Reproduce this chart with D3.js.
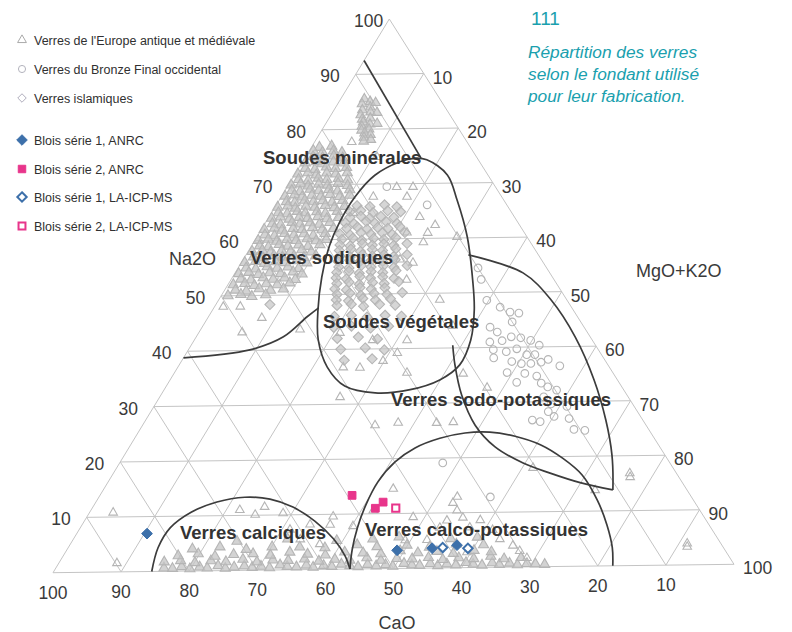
<!DOCTYPE html>
<html>
<head>
<meta charset="utf-8">
<script src="https://cdn.jsdelivr.net/npm/d3@7"></script>
<style>
  body { margin: 0; background: #fff; }
  text { font-family: "Liberation Sans", Arial, sans-serif; }
</style>
</head>
<body>
<svg id="chart" width="792" height="632"></svg>
<script>
// Compositions are shares of the fluxes, in %: [Na2O, MgO+K2O]; CaO is the remainder.

// Verres de l'Europe antique et médiévale
const natronColumn = [[85.5,3.5],[85,4.6],[84.6,3.6],[84,5.1],[83.5,4.2],[83.1,5.6],[82.6,4.4],[82,6.1],[81.8,5],[81.3,5.4],[80.9,6.6],[80.5,5.6],[80,6.9],[79.8,5.9],[79.3,6.6],[79,7.6],[78.5,6.9],[78.1,8.1],[77.8,7.2],[83,6.6],[81,7.6],[84.8,5.5]];
const natronMain = [[76.8,1.2],[77,2.9],[76.2,0.6],[75.9,2.1],[76.1,3.6],[75.8,5],[75.1,1.1],[74.9,2.6],[75.2,4.1],[74.8,5.6],[74,0.5],[74.2,2],[73.8,3.1],[74.1,4.6],[73.9,6.2],[73,1],[72.8,2.5],[73.2,4],[72.9,5.5],[73.1,7],[72,0.4],[72.2,1.8],[71.8,3.2],[72.1,4.6],[71.9,6],[72.1,7.6],[71,1],[70.8,2.5],[71.2,3.8],[70.9,5.2],[71.1,6.8],[70.8,8.3],[70,0.4],[70.2,1.7],[69.8,3],[70.1,4.4],[69.9,5.8],[70.2,7.2],[69.8,8.8],[69,1],[68.8,2.3],[69.2,3.6],[68.9,5],[69.1,6.4],[68.8,7.8],[69,9.5],[68,0.5],[68.2,1.8],[67.8,3.1],[68.1,4.4],[67.9,5.8],[68.2,7],[67.8,8.6],[68,10],[67,1.2],[66.8,2.5],[67.2,3.8],[66.9,5.2],[67.1,6.5],[66.8,8],[67.1,9.4],[66,0.4],[66.2,1.8],[65.8,3.1],[66.1,4.5],[65.9,5.9],[66.2,7.3],[65.8,8.8],[66,10.2],[65,1],[64.8,2.4],[65.2,3.7],[64.9,5],[65.1,6.6],[64.8,8],[65.1,9.6],[64,0.5],[64.2,1.7],[63.8,3.2],[64.1,4.5],[63.9,5.8],[64.2,7.2],[63.8,8.7],[64,10.3],[63,1.1],[62.8,2.4],[63.2,3.9],[62.9,5.2],[63.1,6.6],[62.8,8.1],[63.1,9.5],[62,0.4],[62.2,1.8],[61.8,3.1],[62.1,4.6],[61.9,6],[62.2,7.4],[61.8,9],[62,10.6],[61,1],[60.8,2.5],[61.2,3.8],[60.9,5.3],[61.1,6.7],[60.8,8.2],[61.1,9.8],[60,0.5],[60.2,1.9],[59.8,3.3],[60.1,4.7],[59.9,6.1],[60.2,7.6],[59.8,9.1],[60,10.5],[59,1.2],[58.8,2.6],[59.2,4],[58.9,5.4],[59.1,6.9],[58.8,8.4],[59.1,10],[58,0.6],[58.2,2],[57.8,3.4],[58.1,4.9],[57.9,6.3],[58.2,7.8],[57.8,9.4],[57,1.3],[56.8,2.8],[57.2,4.2],[56.9,5.6],[57.1,7.2],[56.8,8.8],[57.1,10.4],[56,0.5],[56.2,2],[55.8,3.5],[56.1,5],[55.9,6.5],[56.2,8],[55.8,9.7],[55,1.2],[54.8,2.7],[55.2,4.2],[54.9,5.8],[55.1,7.3],[54.8,9],[54,0.6],[54.2,2],[53.8,3.6],[54.1,5.1],[53.9,6.8],[54.2,8.5],[53.8,10],[53,1.4],[52.8,3],[53.2,4.6],[52.9,6.2],[53.1,7.8],[52.8,9.5],[52,0.8],[52.2,2.4],[51.8,4],[52.1,5.6],[51.9,7.3],[52.2,9],[51,1.6],[50.8,3.3],[51.2,5],[50.9,6.8],[51.1,8.6],[50,1],[50.2,2.8],[49.8,4.6],[50.1,6.5]];
const europeScattered = [[77.7,5.5],[74.9,10.6],[69.4,16.2],[67.7,13.6],[67.6,18.6],[63.9,22.3],[61,24.9],[64.8,12.1],[61.1,21.8],[59.3,25.1],[69.4,18.6],[62.4,25.3],[60.2,29.6],[48,3.8],[48,1.3],[43.3,6.4],[56.2,23.2],[55.6,25.4],[52.5,26],[48.8,32.7],[44,37],[43,20.9],[41.6,26.4],[39.2,31.2],[36.7,24.5],[36.6,27],[41.5,31.5],[37.8,29.8],[35.6,34.4],[35.3,42.8],[31.3,26.7],[26.1,34.4],[26.5,37.6],[26.4,43.3],[9.6,36.4],[7.8,40.2],[18,61.6],[16.1,76.8],[16.8,76.4],[3.3,91.5],[3.9,91.2],[13.8,72.8],[32.7,47.6],[26.5,45.7],[10.8,3.5],[1.6,8.6],[11,22],[10.1,24.7],[11.5,25.4],[10.3,28.7],[14.5,42.8],[10.6,41.8],[9.3,48.3],[5.1,52.4],[11.8,52.9],[10.4,54.2],[9.1,55.7],[8.6,53.6],[8.6,58.5],[6.8,61.2],[3.9,65.6],[1.6,68.8],[2.8,59.4],[7.3,53.2],[12.9,53],[7.3,57.6],[5.1,63.1],[2.9,67.1],[5.1,49.2],[8.1,36.7],[5.5,33.6],[7.3,31.2],[8.2,33.7],[4.6,36.9],[45.9,8],[43.7,14.7]];
const forestBand = [[0.6,16],[0.5,17.3],[0.8,18.5],[0.4,19.9],[0.7,21.2],[0.5,22.4],[0.9,23.8],[0.4,25.1],[0.6,26.3],[0.8,27.7],[0.5,29],[0.7,30.2],[0.4,31.6],[0.9,32.9],[0.6,34.1],[0.5,35.5],[0.8,36.8],[0.4,38],[0.7,39.4],[0.5,40.7],[0.9,41.9],[0.6,43.3],[0.4,44.6],[0.8,45.8],[0.5,47.2],[0.7,48.5],[0.4,49.7],[0.9,51.1],[0.6,52.4],[0.5,53.6],[0.8,55],[0.4,56.3],[0.7,57.5],[0.5,58.9],[0.9,60.2],[0.6,61.4],[0.4,62.8],[0.8,64.1],[0.5,65.3],[0.7,66.7],[0.4,68],[0.6,69.3],[0.5,70.6],[0.4,72],
[1.7,15.5],[1.9,17.8],[1.5,20.1],[1.8,22.3],[1.6,24.6],[2,26.9],[1.5,29.2],[1.8,31.4],[1.7,33.7],[1.9,36],[1.5,38.3],[1.8,40.5],[1.6,42.8],[2,45.1],[1.5,47.4],[1.8,49.6],[1.7,51.9],[1.9,54.2],[1.5,56.5],[1.8,58.7],[1.6,61],[2,63.3],[1.5,65.5],[1.7,67.9],
[2.8,17],[3.1,19.8],[2.6,22.5],[2.9,25.1],[3,27.9],[2.7,30.6],[3.2,33.2],[2.8,36],[2.6,38.7],[3.1,41.3],[2.9,44.1],[2.7,46.8],[3.2,49.4],[2.8,52.2],[3,54.9],[2.6,57.5],[3.1,60.3],[2.8,63],
[4,18.5],[4.3,22.4],[3.8,26.5],[4.2,30.1],[4.1,34.2],[3.9,38],[4.4,42.5],[4,45.6],[4.2,49.9],[3.8,53.4],[4.3,57.1],[4.1,61.2],
[5.3,24.4],[5.6,31.7],[5.2,39.1],[5.4,44.3],[5.7,48],[5.3,55.8],[5.5,59.6]];

// Verres du Bronze Final occidental
const bronzeFinal = [[54.5,35.5],[52.4,37],[48.6,39.7],[43.7,42.6],[39.6,45.1],[47.3,42.3],[46.4,44.2],[46.2,45.6],[44.6,45.4],[42.8,44.1],[41,43.9],[41.2,45.6],[41.9,46.6],[41.7,48.1],[41.2,49.8],[40.3,51.5],[38.1,45.9],[39.2,47.2],[39.7,48.5],[38.6,50.5],[38.6,51.7],[37.4,48.9],[37,50.5],[37,51.9],[37.2,53.3],[37.7,54.1],[36.5,56.4],[35.4,49.2],[35.2,51.9],[34.7,53.9],[33.6,51.5],[33.4,55.2],[32.7,56.5],[32.1,58.1],[30.9,56.8],[29.6,58.5],[29.1,61.1],[28.2,58.8],[26.7,57.2],[27.3,60.1],[26.9,62.5],[24.9,64.2],[24.7,65.9],[26.4,58.5],[66.1,22.3],[69.5,14.7],[19.1,47.8],[12.8,57.9]];

// Verres islamiques
const islamic = [[66.1,12],[65.9,14],[66.2,16],[65.8,18],[65,11.5],[65.2,13],[64.8,15],[65.1,17],[64.9,19],[64,12],[64.2,13.5],[63.8,15],[64.1,16.5],[63.9,18.5],[63,11.8],[62.8,13.2],[63.2,14.8],[62.9,16.2],[63.1,17.8],[62.8,19.5],[62,12.5],[62.2,14],[61.8,15.6],[62.1,17],[61.9,18.6],[62.2,20.2],[61,12],[60.8,13.6],[61.2,15],[60.9,16.6],[61.1,18.2],[60.8,19.8],[61.1,21.5],[60,12.8],[60.2,14.3],[59.8,15.8],[60.1,17.4],[59.9,19],[60.2,20.6],[59,13],[58.8,14.6],[59.2,16.2],[58.9,17.8],[59.1,19.4],[58.8,21],[59.1,22.8],[58,13.4],[58.2,15],[57.8,16.6],[58.1,18.2],[57.9,19.8],[58.2,21.6],[57,14],[56.8,15.6],[57.2,17.2],[56.9,18.8],[57.1,20.4],[56.8,22],[57.1,23.8],[56,14.2],[56.2,15.8],[55.8,17.4],[56.1,19],[55.9,20.8],[56.2,22.5],[55,14.8],[54.8,16.4],[55.2,18],[54.9,19.6],[55.1,21.3],[54.8,23],[55.1,24.8],[54,15],[54.2,16.7],[53.8,18.4],[54.1,20],[53.9,21.8],[54.2,23.6],[53,15.4],[52.8,17],[53.2,18.8],[52.9,20.5],[53.1,22.2],[52.8,24],[52,16],[52.2,17.7],[51.8,19.4],[52.1,21.2],[51.9,23],[52.2,25],[51,16.2],[50.8,18],[51.2,19.8],[50.9,21.6],[51.1,23.5],[50,17],[50.2,18.8],[49.8,20.6],[50.1,22.4],[49.9,24.4],[50.2,26.5],[49,17.4],[48.8,19.3],[49.2,21.2],[48.9,23.2],[49.1,25.3],[48,18],[48.2,20],[47.8,22],[48.1,24.2],[47.9,26.6],[46,18.6],[46.2,21],[45.8,23.5],[46.1,26],[45.9,28.5],[44,19.5],[44.2,22],[43.8,25],[44.1,27.5],[42,21],[42.2,24],[41.8,27],[40,22.5],[40.2,26],[39.8,29],[38,24],[38.2,28],[48.3,8]];

// Blois
const bloisS1Anrc = [[6.9,10.4],[3.3,48.9],[3.6,53.9],[4.1,57.3]];
const bloisS2Anrc = [[13.4,37.3],[11.0,41.9],[12.1,42.5]];
const bloisS1Icp = [[3.7,55.4],[3.5,59.2]];
const bloisS2Icp = [[11.0,44.9]];

// Field boundaries
const mineralLine = [[92.5,0],[74.6,17.2]];
const vegetalLoop = [[74.6,16.2],[74.3,18.2],[71.5,22.6],[66.9,26.3],[60.2,31.1],[52.3,35.8],[46.9,38.7],[41.4,40.9],[36.9,41.5],[34.2,39.9],[32.5,36.4],[32.0,31.5],[33.3,26.4],[36.8,22.1],[41.8,18.3],[47.2,15.6],[53.2,13.2],[59.0,11.5],[63.2,10.9],[67.7,10.9],[71.6,11.9],[74.0,14.4]];
const sodicLine = [[38.8,0],[40.1,9.1],[42.4,12.9],[46.0,14.6],[47.6,15.5]];
const sodoPotOuter = [[56.9,32.9],[53.5,42.6],[48.5,49.2],[41.7,56.1],[33.9,62.7],[26.5,68.1],[20.2,72.1],[13.8,75.4]];
const sodoPotInner = [[13.8,75.4],[15.2,69.9],[17.0,64.6],[18.9,59.7],[21.9,54.1],[25.9,49.2],[31.4,44.5],[36.9,40.8],[40.5,38.7]];
const calcoArch = [[0,43.6],[3.5,42.2],[7.5,41.0],[11.6,40.2],[15.8,39.9],[19.4,40.65],[21.9,42.35],[23.6,45.15],[24.5,48.4],[24.6,52.0],[23.8,56.1],[22.2,60.6],[19.7,65.1],[16.6,69.5],[12.0,74.0],[7.4,77.7],[3.3,80.5],[0,82.2]];
const calcicArch = [[0,14.5],[4.3,13.3],[7.9,13.3],[10.7,15.0],[12.5,17.9],[13.3,21.6],[12.9,25.5],[11.4,29.6],[8.8,34.1],[5.5,38.5],[2.4,41.7],[0,43.6]];

// Axes
const gridSteps = [10,20,30,40,50,60,70,80,90];
const tickValues = [10,20,30,40,50,60,70,80,90,100];

const fieldNames = [
  {text: "Soudes minérales", x: 263, y: 164},
  {text: "Verres sodiques", x: 250, y: 264},
  {text: "Soudes végétales", x: 323, y: 328},
  {text: "Verres sodo-potassiques", x: 391, y: 406},
  {text: "Verres calciques", x: 180, y: 539},
  {text: "Verres calco-potassiques", x: 365, y: 536}
];

const legendItems = [
  {label: "Verres de l'Europe antique et médiévale", kind: "tri", y: 40},
  {label: "Verres du Bronze Final occidental", kind: "circ", y: 69},
  {label: "Verres islamiques", kind: "dia", y: 98},
  {label: "Blois série 1, ANRC", kind: "s1a", y: 140},
  {label: "Blois série 2, ANRC", kind: "s2a", y: 169},
  {label: "Blois série 1, LA-ICP-MS", kind: "s1i", y: 197},
  {label: "Blois série 2, LA-ICP-MS", kind: "s2i", y: 226}
];

const captionNumber = "111";
const captionLines = ["Répartition des verres", "selon le fondant utilisé", "pour leur fabrication."];

// ---------- drawing ----------
const svg = d3.select("#chart");
const apex = [389.3, 19];       // Na2O = 100
const cornerCa = [53, 572.7];   // CaO = 100
const cornerK = [734, 564.3];   // MgO+K2O = 100
const share = d3.scaleLinear().domain([0, 100]).range([0, 1]);

function project(na, k) {
  const a = share(na), c = share(k), b = share(100 - na - k);
  return [a * apex[0] + b * cornerCa[0] + c * cornerK[0],
          a * apex[1] + b * cornerCa[1] + c * cornerK[1]];
}

// a diamond is a square turned by 45 degrees
const diamond = {
  draw(context, size) {
    const h = Math.sqrt(size * 2) / 2;
    context.moveTo(0, -h); context.lineTo(h, 0); context.lineTo(0, h); context.lineTo(-h, 0); context.closePath();
  }
};

const GRID = "#c4c4c4";
const gGrid = svg.append("g").attr("stroke", GRID).attr("stroke-width", 1).attr("fill", "none");
function seg(p, q) { gGrid.append("line").attr("x1", p[0]).attr("y1", p[1]).attr("x2", q[0]).attr("y2", q[1]); }
gridSteps.forEach(v => {
  seg(project(v, 0), project(v, 100 - v));
  seg(project(0, v), project(100 - v, v));
  seg(project(100 - v, 0), project(0, 100 - v));
});
gGrid.append("path").attr("d", "M" + [project(100, 0), project(0, 0), project(0, 100)].map(p => p.join(",")).join("L") + "Z");

// grey reference populations
const greyStroke = "#b5b5b5";
function scatter(data, type, size, fillOpacity) {
  svg.append("g").selectAll("path").data(data).join("path")
    .attr("d", d3.symbol().type(type).size(size))
    .attr("transform", d => `translate(${project(d[0], d[1])})`)
    .attr("fill", "#c4c4c4").attr("fill-opacity", fillOpacity)
    .attr("stroke", greyStroke).attr("stroke-width", 1.1);
}
scatter(forestBand, d3.symbolTriangle, 44, 0.75);
scatter(natronMain, d3.symbolTriangle, 46, 0.75);
scatter(natronColumn, d3.symbolTriangle, 40, 0.7);
scatter(islamic, diamond, 50, 0.7);
scatter(europeScattered, d3.symbolTriangle, 32, 0);
scatter(bronzeFinal, d3.symbolCircle, 46, 0);

// field boundaries
const gLines = svg.append("g").attr("fill", "none").attr("stroke", "#3c3c3c").attr("stroke-width", 1.7);
const px = d => project(d[0], d[1])[0], py = d => project(d[0], d[1])[1];
const openCurve = d3.line().x(px).y(py).curve(d3.curveCatmullRom.alpha(0.5));
const closedCurve = d3.line().x(px).y(py).curve(d3.curveCatmullRomClosed.alpha(0.5));
const straight = d3.line().x(px).y(py);
gLines.append("path").attr("d", straight(mineralLine));
gLines.append("path").attr("d", closedCurve(vegetalLoop));
gLines.append("path").attr("d", openCurve(sodicLine));
gLines.append("path").attr("d", openCurve(sodoPotOuter));
gLines.append("path").attr("d", openCurve(sodoPotInner));
gLines.append("path").attr("d", openCurve(calcoArch));
gLines.append("path").attr("d", openCurve(calcicArch));

// Blois samples
const BLUE = "#3d70aa", PINK = "#e8358b";
function blois(data, type, size, color, hollow) {
  svg.append("g").selectAll("path").data(data).join("path")
    .attr("d", d3.symbol().type(type).size(size))
    .attr("transform", d => `translate(${project(d[0], d[1])})`)
    .attr("fill", hollow ? "#fff" : color)
    .attr("stroke", color).attr("stroke-width", hollow ? 2 : 1);
}
blois(bloisS1Anrc, diamond, 58, BLUE, false);
blois(bloisS2Anrc, d3.symbolSquare, 60, PINK, false);
blois(bloisS1Icp, diamond, 44, BLUE, true);
blois(bloisS2Icp, d3.symbolSquare, 52, PINK, true);

// tick labels
const gTicks = svg.append("g").attr("fill", "#3a3a3a").style("font-size", "17.5px");
tickValues.forEach(v => {
  const pl = project(v, 0);
  gTicks.append("text").attr("text-anchor", "end")
    .attr("x", pl[0] - (v === 100 ? 6 : 16)).attr("y", pl[1] + 8).text(v);
  const pr = project(100 - v, v);
  gTicks.append("text").attr("text-anchor", "start")
    .attr("x", pr[0] + 9).attr("y", pr[1] + 10).text(v);
  const pb = project(0, 100 - v);
  gTicks.append("text").attr("text-anchor", "middle")
    .attr("x", pb[0]).attr("y", pb[1] + 26).text(v);
});

// axis names
const gAxis = svg.append("g").attr("fill", "#3a3a3a").style("font-size", "18px");
gAxis.append("text").attr("x", 169).attr("y", 265).text("Na2O");
gAxis.append("text").attr("x", 636).attr("y", 277).text("MgO+K2O");
gAxis.append("text").attr("x", 397).attr("y", 629).attr("text-anchor", "middle").text("CaO");

// field names
svg.append("g").attr("fill", "#333").style("font-size", "18.5px").style("font-weight", "bold")
  .selectAll("text").data(fieldNames).join("text")
  .attr("x", d => d.x).attr("y", d => d.y).text(d => d.text);

// legend
const gLeg = svg.append("g");
legendItems.forEach(it => {
  const cx = 22;
  let type, size, fill, stroke, sw = 1;
  if (it.kind === "tri") { type = d3.symbolTriangle; size = 34; fill = "#fff"; stroke = "#aaaaaa"; }
  if (it.kind === "circ") { type = d3.symbolCircle; size = 40; fill = "#fff"; stroke = "#b3b3bd"; }
  if (it.kind === "dia") { type = diamond; size = 36; fill = "#fff"; stroke = "#b0aebd"; }
  if (it.kind === "s1a") { type = diamond; size = 56; fill = BLUE; stroke = BLUE; }
  if (it.kind === "s2a") { type = d3.symbolSquare; size = 56; fill = PINK; stroke = PINK; }
  if (it.kind === "s1i") { type = diamond; size = 44; fill = "#fff"; stroke = BLUE; sw = 2; }
  if (it.kind === "s2i") { type = d3.symbolSquare; size = 48; fill = "#fff"; stroke = PINK; sw = 2; }
  gLeg.append("path").attr("d", d3.symbol().type(type).size(size)())
    .attr("transform", `translate(${cx},${it.y})`)
    .attr("fill", fill).attr("stroke", stroke).attr("stroke-width", sw);
  gLeg.append("text").attr("x", 34).attr("y", it.y + 4.5)
    .attr("fill", "#303030").style("font-size", "12.5px").text(it.label);
});

// caption
const TEAL = "#1aa0ae";
svg.append("text").attr("x", 531).attr("y", 25).attr("fill", TEAL)
  .style("font-size", "19px").text(captionNumber);
svg.append("g").attr("fill", TEAL).style("font-size", "17.3px").style("font-style", "italic")
  .selectAll("text").data(captionLines).join("text")
  .attr("x", 528).attr("y", (d, i) => 58 + i * 22).text(d => d);
</script>
</body>
</html>
